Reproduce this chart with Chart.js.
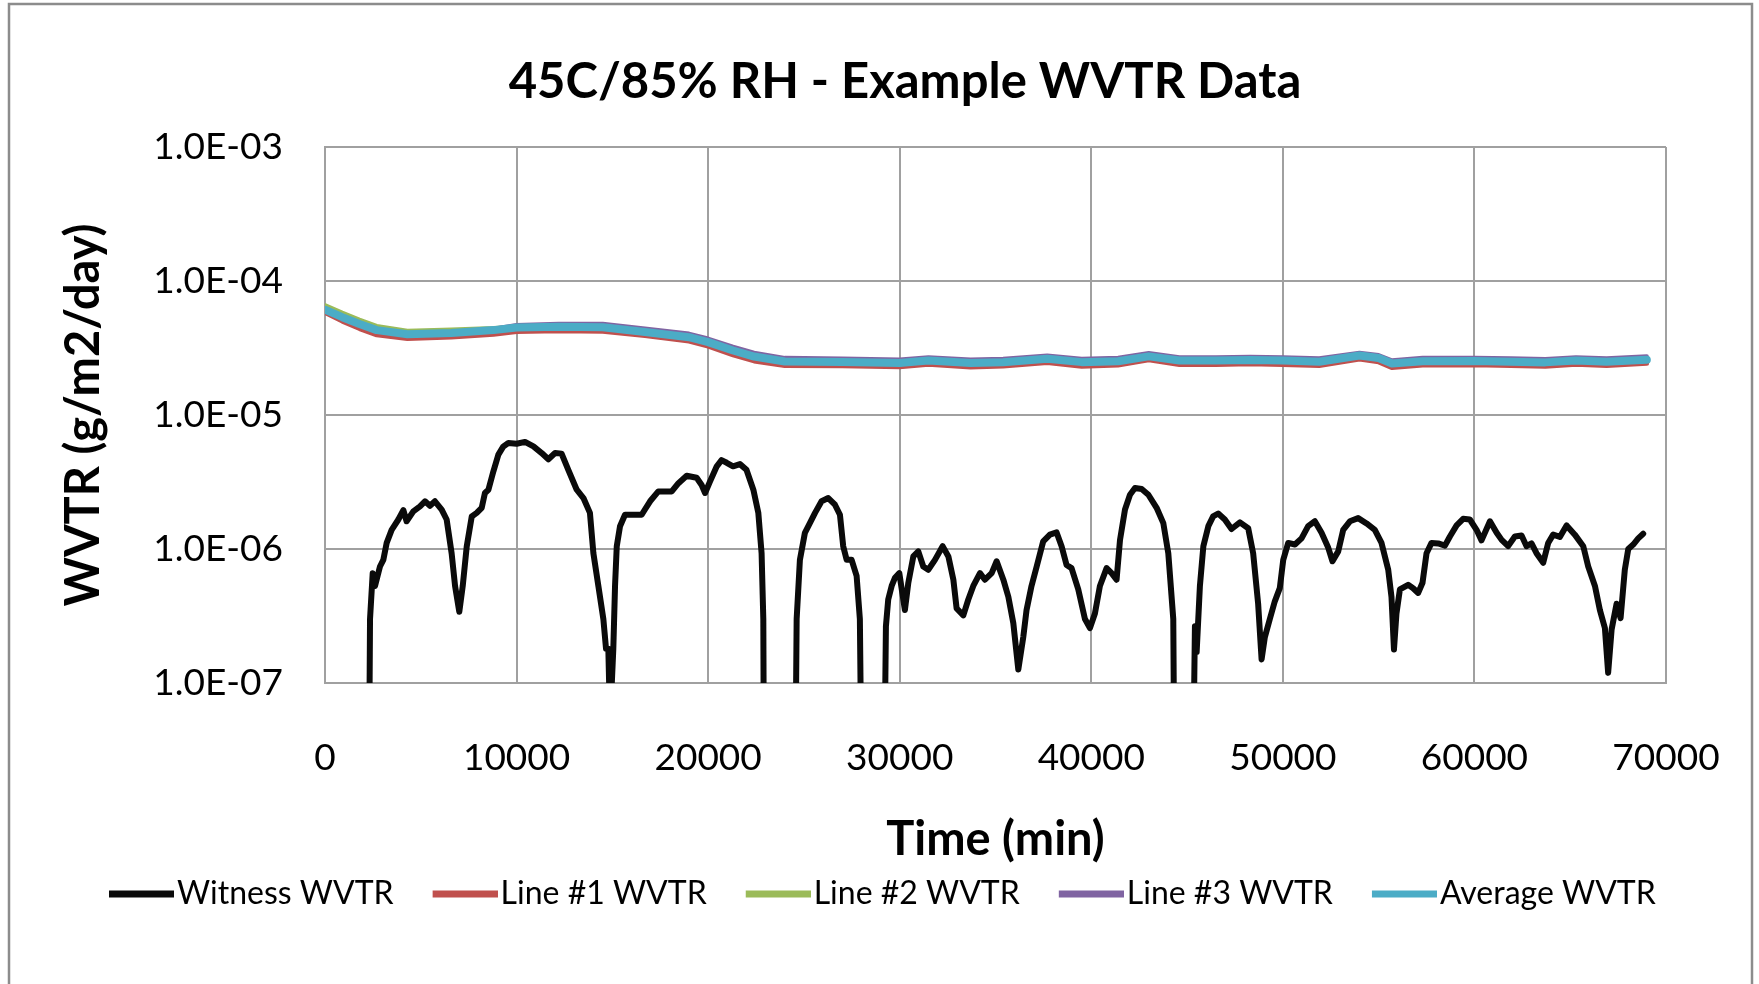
<!DOCTYPE html>
<html>
<head>
<meta charset="utf-8">
<script src="https://cdn.jsdelivr.net/npm/chart.js@4.4.1/dist/chart.umd.min.js"></script>
<style>
html,body{margin:0;padding:0;background:#ffffff;}
canvas{display:block;}
</style>
</head>
<body>
<canvas id="c" width="1759" height="984"></canvas>
<script>
// ---------- text ----------
const chartTitle = '45C/85% RH - Example WVTR Data';
const xAxisTitle = 'Time (min)';
const yAxisTitle = 'WVTR (g/m2/day)';
const seriesNames = ['Witness WVTR', 'Line #1 WVTR', 'Line #2 WVTR', 'Line #3 WVTR', 'Average WVTR'];

// ---------- ticks ----------
const xTickValues = [0, 10000, 20000, 30000, 40000, 50000, 60000, 70000];
const xTickLabels = ['0', '10000', '20000', '30000', '40000', '50000', '60000', '70000'];
const yTickValues = [1e-7, 1e-6, 1e-5, 1e-4, 1e-3];
const yTickLabels = ['1.0E-07', '1.0E-06', '1.0E-05', '1.0E-04', '1.0E-03'];

// ---------- witness series (values below 1E-07 fall off the log axis) ----------
const witnessTime = [
  2240, 2350, 2490, 2610, 2870, 3045, 3220, 3480, 3830, 4090, 4260, 4610, 4960, 5220, 5480, 5740, 6090, 6350,
  6610, 6790, 7010, 7190, 7400, 7660, 7920, 8180, 8350, 8530, 8790, 9050, 9310, 9570, 10000, 10440, 10880,
  11310, 11660, 12010, 12350, 12700, 13140, 13490, 13830, 14010, 14270, 14530, 14670, 14790, 14880, 15050,
  15140, 15230, 15400, 15660, 16100, 16530, 16700, 16970, 17400, 18100, 18450, 18880, 19400, 19660, 19840,
  20100, 20450, 20700, 20970, 21300, 21660, 22000, 22360, 22620, 22790, 22880, 22950,
  24480, 24620, 24790, 25050, 25310, 25580, 25920, 26270, 26620, 26880, 27050, 27230, 27490, 27750, 27920, 28100,
  29100, 29280, 29400, 29580, 29750, 29980, 30270, 30450, 30710, 30970, 31230, 31490, 31840, 32240, 32540,
  32800, 32970, 33320, 33580, 33840, 34190, 34450, 34800, 35060, 35410, 35670, 35930, 36190, 36450, 36620,
  36880, 37150, 37490, 37840, 38190, 38450, 38710, 38970, 39320, 39670, 39930, 40190, 40450, 40800, 41060,
  41320, 41500, 41760, 42020, 42280, 42630, 42980, 43410, 43760, 44020, 44280, 44400,
  45200, 45410, 45500, 45670, 45850, 46110, 46360, 46625, 46970, 47320, 47760, 48190, 48450, 48710, 48890,
  49060, 49320, 49580, 49840, 50020, 50280, 50630, 50975, 51320, 51670, 52020, 52370, 52590, 52890, 53150,
  53500, 53930, 54370, 54800, 55150, 55500, 55670, 55800, 55930, 56110, 56540, 56800, 57065, 57290, 57500,
  57760, 58110, 58460, 58720, 59070, 59410, 59760, 60110, 60370, 60810, 61160, 61420, 61760, 62110, 62460,
  62720, 62980, 63240, 63590, 63850, 64110, 64460, 64810, 65240, 65680, 65940, 66290, 66550, 66810, 66980,
  67160, 67420, 67630, 67850, 68030, 68290, 68550, 68810
];
const witnessWVTR = [
  1e-9, 3.0e-7, 6.6e-7, 5.3e-7, 7.4e-7, 8.3e-7, 1.11e-6, 1.39e-6, 1.66e-6, 1.95e-6, 1.61e-6, 1.91e-6, 2.08e-6, 2.27e-6, 2.1e-6, 2.27e-6, 1.97e-6, 1.66e-6,
  9.3e-7, 5.3e-7, 3.4e-7, 5.3e-7, 1.05e-6, 1.75e-6, 1.86e-6, 2.03e-6, 2.62e-6, 2.77e-6, 3.8e-6, 5.06e-6, 5.83e-6, 6.17e-6, 6.1e-6, 6.3e-6, 5.83e-6,
  5.2e-6, 4.67e-6, 5.2e-6, 5.15e-6, 3.9e-6, 2.77e-6, 2.4e-6, 1.86e-6, 9.3e-7, 5.3e-7, 3.0e-7, 1.8e-7, 1.8e-7, 5e-8, 1.8e-7,
  5.3e-7, 1.05e-6, 1.48e-6, 1.8e-6, 1.8e-6, 1.8e-6, 1.97e-6, 2.27e-6, 2.69e-6, 2.69e-6, 3.1e-6, 3.52e-6, 3.4e-6, 3.0e-6, 2.62e-6,
  3.2e-6, 4.14e-6, 4.6e-6, 4.4e-6, 4.14e-6, 4.3e-6, 3.9e-6, 2.77e-6, 1.86e-6, 9.3e-7, 3.0e-7, 1e-9,
  1e-9, 3.0e-7, 8.3e-7, 1.32e-6, 1.56e-6, 1.86e-6, 2.27e-6, 2.4e-6, 2.14e-6, 1.8e-6, 1.05e-6, 8.3e-7, 8.3e-7, 6.3e-7, 3.0e-7, 1e-9,
  1e-9, 2.65e-7, 4.2e-7, 5.3e-7, 6.1e-7, 6.6e-7, 3.5e-7, 5.6e-7, 8.8e-7, 9.6e-7, 7.4e-7, 7.0e-7, 8.3e-7, 1.05e-6, 8.8e-7,
  5.9e-7, 3.6e-7, 3.2e-7, 4.2e-7, 5.3e-7, 6.6e-7, 5.9e-7, 6.6e-7, 8.1e-7, 5.9e-7, 4.4e-7, 2.8e-7, 1.26e-7, 2.2e-7, 3.5e-7,
  5.3e-7, 7.4e-7, 1.14e-6, 1.28e-6, 1.33e-6, 1.05e-6, 7.6e-7, 7.2e-7, 5.0e-7, 3.0e-7, 2.57e-7, 3.3e-7, 5.3e-7, 7.2e-7, 6.6e-7,
  5.9e-7, 1.17e-6, 1.97e-6, 2.54e-6, 2.85e-6, 2.8e-6, 2.54e-6, 2.03e-6, 1.56e-6, 9.3e-7, 3.0e-7, 1e-9,
  1e-9, 2.65e-7, 1.7e-7, 5.3e-7, 1.05e-6, 1.48e-6, 1.75e-6, 1.84e-6, 1.66e-6, 1.41e-6, 1.58e-6, 1.43e-6, 9.3e-7, 3.9e-7, 1.5e-7,
  2.2e-7, 3.0e-7, 4.07e-7, 5.1e-7, 8.3e-7, 1.11e-6, 1.08e-6, 1.2e-6, 1.48e-6, 1.61e-6, 1.32e-6, 1.02e-6, 8.1e-7, 9.6e-7, 1.39e-6,
  1.61e-6, 1.7e-6, 1.55e-6, 1.39e-6, 1.11e-6, 7.0e-7, 4.4e-7, 1.78e-7, 3.3e-7, 5.0e-7, 5.4e-7, 5.1e-7, 4.7e-7, 5.6e-7, 9.3e-7,
  1.11e-6, 1.1e-6, 1.06e-6, 1.24e-6, 1.5e-6, 1.68e-6, 1.66e-6, 1.39e-6, 1.16e-6, 1.61e-6, 1.32e-6, 1.17e-6, 1.05e-6, 1.24e-6, 1.26e-6,
  1.05e-6, 1.1e-6, 9.3e-7, 7.9e-7, 1.11e-6, 1.28e-6, 1.23e-6, 1.5e-6, 1.28e-6, 1.05e-6, 7.4e-7, 5.3e-7, 3.5e-7, 2.57e-7, 1.19e-7,
  2.5e-7, 3.9e-7, 3.05e-7, 7.0e-7, 1.0e-6, 1.08e-6, 1.2e-6, 1.3e-6
];

// ---------- line samples ----------
const lineTime = [
  0, 900, 1800, 2700, 4300, 6600, 8800, 10000, 12200, 14500, 16700, 19000, 20000, 21300, 22400, 24000, 27000,
  30000, 31500, 33700, 35400, 37700, 39500, 41400, 43000, 44600, 46500, 48300, 50000, 51900, 54000, 55000,
  55700, 57300, 60000, 61900, 63700, 65300, 66900, 69000
];
const line1WVTR = [
  5.8e-5, 5.0e-5, 4.4e-5, 3.95e-5, 3.7e-5, 3.8e-5, 3.98e-5, 4.18e-5, 4.23e-5, 4.2e-5, 3.9e-5, 3.55e-5, 3.25e-5, 2.8e-5, 2.52e-5, 2.33e-5, 2.32e-5,
  2.28e-5, 2.38e-5, 2.27e-5, 2.31e-5, 2.45e-5, 2.3e-5, 2.35e-5, 2.57e-5, 2.37e-5, 2.37e-5, 2.4e-5, 2.37e-5, 2.33e-5, 2.6e-5, 2.48e-5,
  2.25e-5, 2.35e-5, 2.36e-5, 2.33e-5, 2.3e-5, 2.38e-5, 2.33e-5, 2.42e-5
];
const line2WVTR = [
  6.6e-5, 5.8e-5, 5.15e-5, 4.62e-5, 4.25e-5, 4.35e-5, 4.45e-5, 4.55e-5, 4.6e-5, 4.57e-5, 4.2e-5, 3.84e-5, 3.52e-5, 3.05e-5, 2.75e-5, 2.53e-5, 2.51e-5,
  2.46e-5, 2.57e-5, 2.46e-5, 2.5e-5, 2.65e-5, 2.5e-5, 2.54e-5, 2.76e-5, 2.57e-5, 2.57e-5, 2.59e-5, 2.57e-5, 2.52e-5, 2.8e-5, 2.68e-5,
  2.44e-5, 2.54e-5, 2.55e-5, 2.52e-5, 2.49e-5, 2.57e-5, 2.52e-5, 2.6e-5
];
const line3WVTR = [
  5.9e-5, 5.3e-5, 4.75e-5, 4.3e-5, 4.05e-5, 4.18e-5, 4.4e-5, 4.7e-5, 4.8e-5, 4.8e-5, 4.42e-5, 4.05e-5, 3.72e-5, 3.24e-5, 2.92e-5, 2.67e-5, 2.64e-5,
  2.59e-5, 2.7e-5, 2.59e-5, 2.63e-5, 2.78e-5, 2.63e-5, 2.67e-5, 2.9e-5, 2.7e-5, 2.7e-5, 2.72e-5, 2.7e-5, 2.65e-5, 2.92e-5, 2.8e-5,
  2.56e-5, 2.67e-5, 2.68e-5, 2.65e-5, 2.62e-5, 2.7e-5, 2.65e-5, 2.74e-5
];
const averageWVTR = [
  6.1e-5, 5.37e-5, 4.78e-5, 4.3e-5, 4.0e-5, 4.1e-5, 4.3e-5, 4.5e-5, 4.55e-5, 4.52e-5, 4.17e-5, 3.81e-5, 3.5e-5, 3.03e-5, 2.73e-5, 2.51e-5, 2.49e-5,
  2.44e-5, 2.55e-5, 2.44e-5, 2.48e-5, 2.63e-5, 2.48e-5, 2.52e-5, 2.74e-5, 2.55e-5, 2.55e-5, 2.57e-5, 2.55e-5, 2.5e-5, 2.78e-5, 2.66e-5,
  2.42e-5, 2.52e-5, 2.53e-5, 2.5e-5, 2.47e-5, 2.55e-5, 2.5e-5, 2.58e-5
];

// ---------- styles ----------
const seriesColors = ['#0a0a0a', '#C0504D', '#9BBB59', '#8064A2', '#4BACC6'];
const seriesWidths = [6, 4.5, 4, 4, 8];
const seriesOrder = [0, 4, 3, 2, 1];
const FONT = 'Lato, "Open Sans", sans-serif';

function pts(xs, ys) { return xs.map((x, i) => ({ x: x, y: ys[i] })); }
const seriesData = [
  pts(witnessTime, witnessWVTR),
  pts(lineTime, line1WVTR),
  pts(lineTime, line2WVTR),
  pts(lineTime, line3WVTR),
  pts(lineTime, averageWVTR)
];

// legend sample: a short thick line sitting just left of the label text
function swatch(color) {
  const c = document.createElement('canvas');
  c.width = 112; c.height = 8;
  const g = c.getContext('2d');
  g.fillStyle = color;
  g.fillRect(47, 0.5, 65, 7);
  return c;
}

const framePlugin = {
  id: 'frame',
  beforeDraw(chart) {
    const ctx = chart.ctx;
    ctx.save();
    ctx.strokeStyle = '#8c8c8c';
    ctx.lineWidth = 2.5;
    ctx.strokeRect(9, 4, 1743, 1100);
    ctx.restore();
  }
};
const titleShiftPlugin = {
  id: 'titleShift',
  afterLayout(chart) {
    const t = chart.titleBlock;
    if (!t) return;
    const shift = 905 - (t.left + t.right) / 2;
    t.left += shift; t.right += shift;
  }
};

new Chart(document.getElementById('c'), {
  type: 'line',
  data: {
    datasets: seriesNames.map((name, i) => ({
      label: name,
      data: seriesData[i],
      borderColor: seriesColors[i],
      backgroundColor: seriesColors[i],
      borderWidth: seriesWidths[i],
      pointRadius: 0,
      pointHoverRadius: 0,
      tension: 0,
      fill: false,
      borderJoinStyle: 'round',
      borderCapStyle: 'round',
      order: seriesOrder[i],
      clip: 0
    }))
  },
  options: {
    responsive: false,
    animation: false,
    devicePixelRatio: 1,
    layout: { padding: { left: 70, right: 93, top: 0, bottom: 64 } },
    plugins: {
      title: {
        display: true,
        text: chartTitle,
        color: '#000',
        font: { family: FONT, size: 49, weight: 'bold' },
        padding: { top: 52.6, bottom: 35.6 }
      },
      legend: {
        display: true,
        position: 'bottom',
        align: 'start',
        labels: {
          usePointStyle: true,
          pointStyleWidth: 86,
          padding: 5,
          color: '#000',
          font: { family: FONT, size: 32 },
          generateLabels(chart) {
            return chart.data.datasets.map((ds, i) => ({
              text: ds.label,
              fillStyle: ds.borderColor,
              strokeStyle: ds.borderColor,
              fontColor: '#000',
              lineWidth: 0,
              pointStyle: swatch(ds.borderColor),
              hidden: false,
              datasetIndex: i
            }));
          }
        }
      },
      tooltip: { enabled: false }
    },
    scales: {
      x: {
        type: 'linear',
        min: 0,
        max: 70000,
        afterBuildTicks(axis) { axis.ticks = xTickValues.map(v => ({ value: v })); },
        afterFit(axis) { axis.height = 190; },
        ticks: {
          color: '#000',
          padding: 0,
          maxRotation: 0,
          autoSkip: false,
          font: { family: FONT, size: 37, lineHeight: 150 / 37 },
          callback: (v, i) => xTickLabels[i]
        },
        grid: { color: '#a0a0a0', lineWidth: 2, drawTicks: false },
        border: { color: '#a0a0a0', width: 2 },
        title: {
          display: true,
          text: xAxisTitle,
          color: '#000',
          font: { family: FONT, size: 47, weight: 'bold' },
          padding: { top: 0, bottom: 4.8 }
        }
      },
      y: {
        type: 'logarithmic',
        min: 1e-7,
        max: 1e-3,
        afterBuildTicks(axis) { axis.ticks = yTickValues.map(v => ({ value: v })); },
        afterFit(axis) { axis.width = 255; },
        ticks: {
          color: '#000',
          padding: 42,
          autoSkip: false,
          font: { family: FONT, size: 37 },
          callback: (v, i) => yTickLabels[i]
        },
        grid: { color: '#a0a0a0', lineWidth: 2, drawTicks: false },
        border: { color: '#a0a0a0', width: 2 },
        title: {
          display: true,
          text: yAxisTitle,
          color: '#000',
          font: { family: FONT, size: 47, weight: 'bold' },
          padding: { top: -14.2, bottom: 0 }
        }
      }
    }
  },
  plugins: [framePlugin, titleShiftPlugin]
});
</script>
</body>
</html>
